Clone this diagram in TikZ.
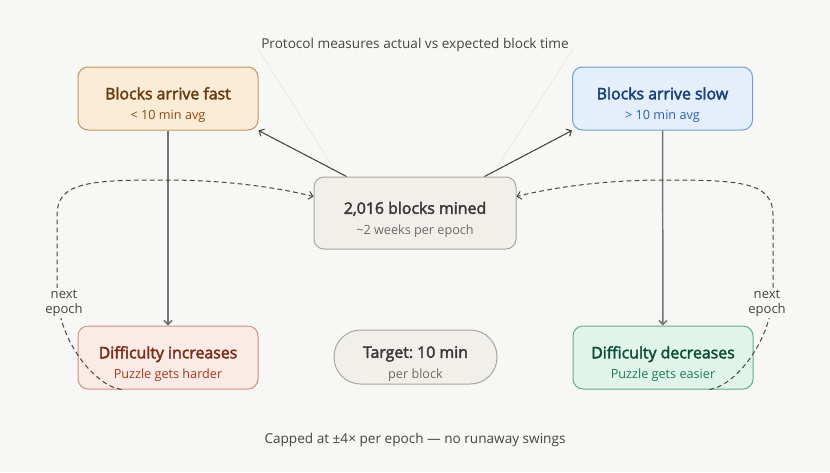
\documentclass[tikz,border=0pt]{standalone}
\usepackage{fontspec}
\setmainfont{Open Sans}
\newfontfamily\cardfont{Open Sans}[FakeBold=2.5]
\usetikzlibrary{arrows.meta,calc}
\definecolor{paper}{HTML}{F7F7F5}
\definecolor{inkgray}{HTML}{444441}
\definecolor{fastfill}{HTML}{FBECD8}
\definecolor{fastline}{HTML}{C6955E}
\definecolor{fastink}{HTML}{6B3B0E}
\definecolor{fastsub}{HTML}{8C4A10}
\definecolor{slowfill}{HTML}{E4EFFB}
\definecolor{slowline}{HTML}{6F9FD8}
\definecolor{slowink}{HTML}{153F7A}
\definecolor{slowsub}{HTML}{2A62B0}
\definecolor{epochfill}{HTML}{F1EFE9}
\definecolor{epochline}{HTML}{A8A69F}
\definecolor{epochink}{HTML}{3A3936}
\definecolor{epochsub}{HTML}{6B6A66}
\definecolor{incfill}{HTML}{FBEBE6}
\definecolor{incline}{HTML}{D4907E}
\definecolor{incink}{HTML}{7B2A16}
\definecolor{incsub}{HTML}{A8381E}
\definecolor{decfill}{HTML}{E1F4EC}
\definecolor{decline}{HTML}{5DAE8E}
\definecolor{decink}{HTML}{0E4E36}
\definecolor{decsub}{HTML}{1B7B57}
\frenchspacing
\newcommand{\boxtitle}[1]{{\fontsize{11.9}{15.5}\cardfont\rule{0pt}{19pt}#1}}
\newcommand{\boxsub}[1]{{\fontsize{9.5}{15.5}\selectfont #1}}
\tikzset{
  card/.style={draw,rounded corners=7.5pt,line width=0.75pt,align=center,
    minimum width=135pt,minimum height=47.25pt,inner sep=0pt,
    font=\fontsize{9.5}{15.5}\selectfont},
  flow/.style={->,draw=inkgray,line width=0.8pt},
  drop/.style={->,draw=gray!90!black,line width=1.1pt},
  loop/.style={->,draw=inkgray,line width=0.75pt,dash pattern=on 3.5pt off 2.5pt},
  note/.style={text=inkgray,font=\fontsize{10.2}{12}\selectfont},
}
\begin{document}
\begin{tikzpicture}[x=0.75pt,y=-0.75pt,>={Straight Barb[length=3pt,width=6pt]}]
% pixel grid, y pointing down
\useasboundingbox[fill=paper] (0,0) rectangle (830,472);
\node[note] (head) at (415,44.5) {Protocol measures actual vs expected block time};
\draw[gray!18,line width=0.6pt] (258,49) -- (333,167);
\draw[gray!18,line width=0.6pt] (573,49) -- (497,167);
\node[card,fill=fastfill,draw=fastline] (fast) at (168,98.5)
  {\textcolor{fastink}{\boxtitle{Blocks arrive fast}}\\\textcolor{fastsub}{\boxsub{< 10 min avg}}};
\node[card,fill=slowfill,draw=slowline] (slow) at (662.5,98.5)
  {\textcolor{slowink}{\boxtitle{Blocks arrive slow}}\\\textcolor{slowsub}{\boxsub{> 10 min avg}}};
\node[card,fill=epochfill,draw=epochline,minimum width=151.5pt,minimum height=54pt] (mined) at (415,213)
  {\textcolor{epochink}{\boxtitle{2,016 blocks mined}}\\\textcolor{epochsub}{\boxsub{\textasciitilde2 weeks per epoch}}};
\node[card,fill=incfill,draw=incline] (inc) at (168,357.5)
  {\textcolor{incink}{\boxtitle{Difficulty increases}}\\\textcolor{incsub}{\boxsub{Puzzle gets harder}}};
\node[card,fill=epochfill,draw=epochline,minimum width=122.25pt,minimum height=40.5pt,rounded corners=20pt] (target) at (415.5,357)
  {\textcolor{epochink}{\boxtitle{Target: 10 min}}\\\textcolor{epochsub}{\boxsub{per block}}};
\node[card,fill=decfill,draw=decline] (dec) at (663,357.5)
  {\textcolor{decink}{\boxtitle{Difficulty decreases}}\\\textcolor{decsub}{\boxsub{Puzzle gets easier}}};
\node[note] (cap) at (415,439.5) {Capped at ±4× per epoch — no runaway swings};
% measurement result
\draw[flow] ($(mined.north west)+(33,0)$) -- (fast.south east);
\draw[flow] ($(mined.north east)+(-32,0)$) -- (slow.south west);
\draw[drop] (fast) -- (inc);
\draw[drop] (slow) -- (dec);
% back to the next epoch
\coordinate (incfoot) at ($(inc.south west)+(44,0)$);
\coordinate (decfoot) at ($(dec.south east)+(-44,0)$);
\draw[loop] (incfoot) .. controls (95,386) and (57,340) .. (57,290) -- (57,215)
  .. controls (57,182) and (90,180) .. (165,180) .. controls (225,180) and (275,187) .. ($(mined.north west)+(0,20)$);
\draw[loop] (decfoot) .. controls (735,386) and (773,340) .. (773,290) -- (773,215)
  .. controls (773,182) and (740,180) .. (665,180) .. controls (605,180) and (555,187) .. ($(mined.north east)+(0,20)$);
\node[note,fill=paper,align=center,inner sep=1pt,font=\fontsize{9.8}{11.5}\selectfont] (nextL) at (64,303) {next\\epoch};
\node[note,fill=paper,align=center,inner sep=1pt,font=\fontsize{9.8}{11.5}\selectfont] (nextR) at (767,303) {next\\epoch};
\end{tikzpicture}
\end{document}
